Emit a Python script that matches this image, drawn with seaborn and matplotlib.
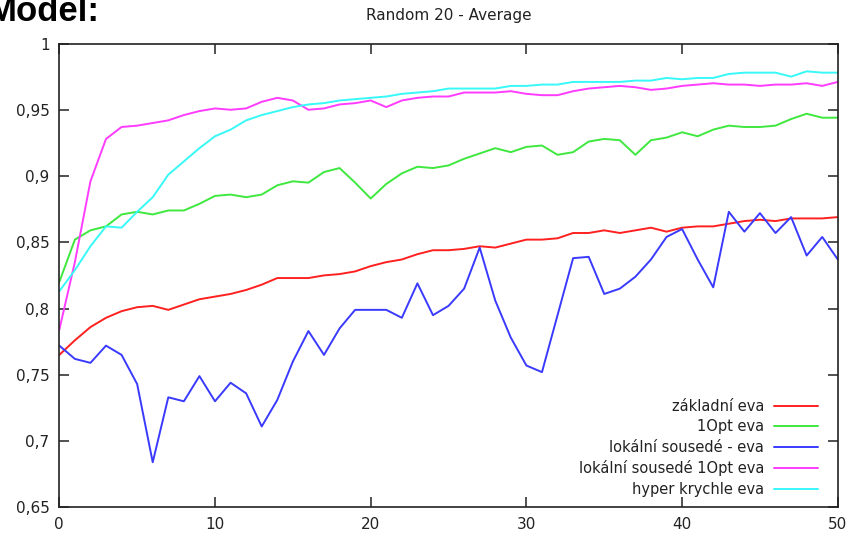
import matplotlib
matplotlib.use("Agg")
import matplotlib.pyplot as plt
import seaborn as sns
import pandas as pd
import numpy as np

x_vals = list(range(51))

zakladni = [0.765, 0.776, 0.786, 0.793, 0.798, 0.801, 0.802, 0.799, 0.803, 0.807,
            0.809, 0.811, 0.814, 0.818, 0.823, 0.823, 0.823, 0.825, 0.826, 0.828,
            0.832, 0.835, 0.837, 0.841, 0.844, 0.844, 0.845, 0.847, 0.846, 0.849,
            0.852, 0.852, 0.853, 0.857, 0.857, 0.859, 0.857, 0.859, 0.861, 0.858,
            0.861, 0.862, 0.862, 0.864, 0.866, 0.867, 0.866, 0.868, 0.868, 0.868,
            0.869]

opt1 = [0.820, 0.852, 0.859, 0.862, 0.871, 0.873, 0.871, 0.874, 0.874, 0.879,
        0.885, 0.886, 0.884, 0.886, 0.893, 0.896, 0.895, 0.903, 0.906, 0.895,
        0.883, 0.894, 0.902, 0.907, 0.906, 0.908, 0.913, 0.917, 0.921, 0.918,
        0.922, 0.923, 0.916, 0.918, 0.926, 0.928, 0.927, 0.916, 0.927, 0.929,
        0.933, 0.930, 0.935, 0.938, 0.937, 0.937, 0.938, 0.943, 0.947, 0.944,
        0.944]

lokalni = [0.772, 0.762, 0.759, 0.772, 0.765, 0.743, 0.684, 0.733, 0.730, 0.749,
           0.730, 0.744, 0.736, 0.711, 0.731, 0.760, 0.783, 0.765, 0.785, 0.799,
           0.799, 0.799, 0.793, 0.819, 0.795, 0.802, 0.815, 0.846, 0.806, 0.778,
           0.757, 0.752, 0.795, 0.838, 0.839, 0.811, 0.815, 0.824, 0.837, 0.854,
           0.860, 0.837, 0.816, 0.873, 0.858, 0.872, 0.857, 0.869, 0.840, 0.854,
           0.837]

lokalni_1opt = [0.784, 0.835, 0.896, 0.928, 0.937, 0.938, 0.940, 0.942, 0.946, 0.949,
                0.951, 0.950, 0.951, 0.956, 0.959, 0.957, 0.950, 0.951, 0.954, 0.955,
                0.957, 0.952, 0.957, 0.959, 0.960, 0.960, 0.963, 0.963, 0.963, 0.964,
                0.962, 0.961, 0.961, 0.964, 0.966, 0.967, 0.968, 0.967, 0.965, 0.966,
                0.968, 0.969, 0.970, 0.969, 0.969, 0.968, 0.969, 0.969, 0.970, 0.968,
                0.971]

hyper = [0.813, 0.829, 0.847, 0.862, 0.861, 0.873, 0.884, 0.901, 0.911, 0.921,
         0.930, 0.935, 0.942, 0.946, 0.949, 0.952, 0.954, 0.955, 0.957, 0.958,
         0.959, 0.960, 0.962, 0.963, 0.964, 0.966, 0.966, 0.966, 0.966, 0.968,
         0.968, 0.969, 0.969, 0.971, 0.971, 0.971, 0.971, 0.972, 0.972, 0.974,
         0.973, 0.974, 0.974, 0.977, 0.978, 0.978, 0.978, 0.975, 0.979, 0.978,
         0.978]

series_names = ["základní eva", "1Opt eva", "lokální sousedé - eva",
                "lokální sousedé 1Opt eva", "hyper krychle eva"]
series_values = [zakladni, opt1, lokalni, lokalni_1opt, hyper]
colors = ["#ff2020", "#3ee83e", "#3a3aff", "#ff3cff", "#38f8f8"]

x_ticks = [0, 10, 20, 30, 40, 50]
y_ticks = [0.65, 0.7, 0.75, 0.8, 0.85, 0.9, 0.95, 1.0]
y_tick_labels = ["0,65", "0,7", "0,75", "0,8", "0,85", "0,9", "0,95", "1"]

frames = []
for name, vals in zip(series_names, series_values):
    frames.append(pd.DataFrame({"x": x_vals, "y": vals, "series": name}))
df = pd.concat(frames, ignore_index=True)

sns.set_style("ticks")
plt.rcParams["font.family"] = ["DejaVu Sans"]

W, H = 853, 541
fig = plt.figure(figsize=(W / 100, H / 100), dpi=100)
ax = fig.add_axes([59.3 / W, 1 - 507.3 / H, (837.8 - 59.3) / W, (507.3 - 43.5) / H])

sns.lineplot(data=df, x="x", y="y", hue="series", hue_order=series_names,
             palette=dict(zip(series_names, colors)), linewidth=1.4, ax=ax,
             legend=True)

ax.set_xlim(0, 50)
ax.set_ylim(0.65, 1.0)
ax.set_xticks(x_ticks)
ax.set_xticklabels([str(t) for t in x_ticks])
ax.set_yticks(y_ticks)
ax.set_yticklabels(y_tick_labels)
ax.set_xlabel("")
ax.set_ylabel("")
ax.tick_params(direction="in", length=7, width=1.1, top=True, right=True,
               labelsize=11, colors="#222222", pad=7)
ax.tick_params(axis="x", labeltop=False, labelright=False)
for s in ax.spines.values():
    s.set_linewidth(1.2)
    s.set_color("#222222")
    s.set_visible(True)

handles, labels = ax.get_legend_handles_labels()
leg = ax.legend(handles, labels, loc="lower right", frameon=False,
                markerfirst=False, fontsize=10.5, handlelength=3.0,
                handletextpad=0.7, labelspacing=0.38, borderpad=0,
                borderaxespad=0,
                bbox_to_anchor=(818 / W, 1 - 497 / H),
                bbox_transform=fig.transFigure)
for t in leg.get_texts():
    t.set_color("#222222")
for h in leg.get_lines():
    h.set_linewidth(1.4)

fig.text(449 / W, 1 - 20 / H, "Random 20 - Average", ha="center", va="baseline",
         fontsize=11, color="#222222")
fig.text(100 / W, 1 - 21 / H, "Model:", ha="right", va="baseline",
         fontsize=25, fontweight="bold", family=["Liberation Sans", "DejaVu Sans"],
         color="black")

fig.savefig("out.png", dpi=100)
